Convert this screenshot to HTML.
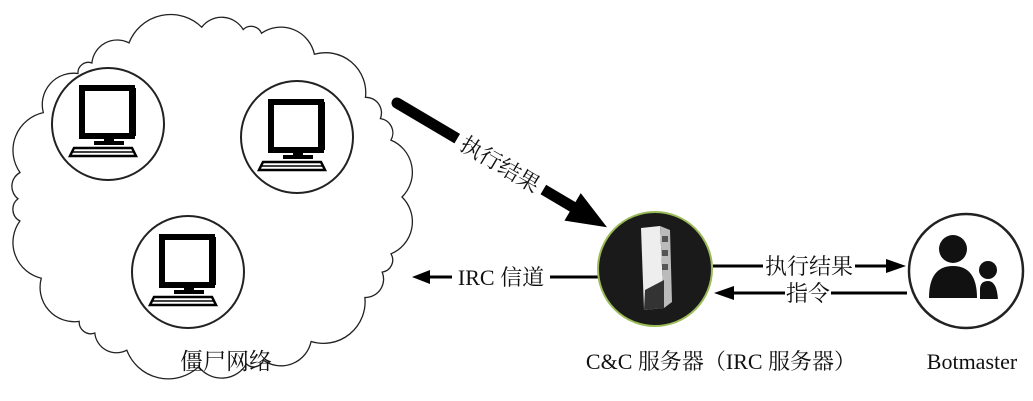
<!DOCTYPE html>
<html><head><meta charset="utf-8"><style>
html,body{margin:0;padding:0;background:#fff;width:1033px;height:401px;overflow:hidden}
svg{display:block}
text{font-family:"Liberation Serif","Noto Serif CJK SC",serif;fill:#111}
</style></head><body>
<svg id="s" width="1033" height="401" viewBox="0 0 1033 401">
<defs>
<g id="pc">
  <rect x="-28" y="-38" width="50" height="48" fill="#fff" stroke="#000" stroke-width="6"/>
  <rect x="22" y="-38" width="4" height="48" fill="#000"/>
  <rect x="-6" y="10" width="10" height="6" fill="#000"/>
  <rect x="-16" y="15" width="30" height="4" fill="#000"/>
  <polygon points="-36,22 22,22 26,30 -40,30" fill="#fff" stroke="#000" stroke-width="2.5"/>
  <line x1="-38" y1="26" x2="24" y2="26" stroke="#000" stroke-width="1.5"/>
</g>
</defs>
<path id="cloud" fill="#fff" stroke="#222" stroke-width="1.3"/>
<circle cx="108" cy="124" r="56" fill="#fff" stroke="#222" stroke-width="2"/>
<use href="#pc" x="110" y="126"/>
<circle cx="297" cy="137" r="56" fill="#fff" stroke="#222" stroke-width="2"/>
<use href="#pc" x="299" y="140"/>
<circle cx="188" cy="272" r="56" fill="#fff" stroke="#222" stroke-width="2"/>
<use href="#pc" x="190" y="275"/>
<text x="226" y="369" font-size="23" text-anchor="middle">僵尸网络</text>

<g transform="translate(397,103) rotate(30.6)">
  <line x1="0" y1="0" x2="210" y2="0" stroke="#000" stroke-width="11" stroke-linecap="round"/>
  <polygon points="204,-16 244,0 204,16" fill="#000"/>
  <rect x="70" y="-15" width="100" height="30" fill="#fff"/>
  <text x="120" y="8" font-size="22" text-anchor="middle">执行结果</text>
</g>

<line x1="425" y1="277" x2="598" y2="277" stroke="#000" stroke-width="3"/>
<polygon points="412,277 430,270 430,284" fill="#000"/>
<rect x="452" y="264" width="98" height="26" fill="#fff"/>
<text x="501" y="285" font-size="22" text-anchor="middle">IRC 信道</text>

<circle cx="655" cy="269" r="57" fill="#1a1a1a" stroke="#9bbb58" stroke-width="2"/>
<polygon points="641,228 660,226 664,308 644,310" fill="#eee"/>
<polygon points="660,226 670,230 672,302 664,308" fill="#bbb"/>
<rect x="662" y="236" width="6" height="6" fill="#555"/><rect x="662" y="250" width="6" height="6" fill="#555"/><rect x="662" y="264" width="6" height="6" fill="#555"/>
<polygon points="645,290 664,280 664,308 644,310" fill="#333"/>

<line x1="713" y1="266" x2="890" y2="266" stroke="#000" stroke-width="3"/>
<polygon points="906,266 886,259 886,273" fill="#000"/>
<rect x="763" y="254" width="92" height="24" fill="#fff"/>
<text x="809" y="274" font-size="22" text-anchor="middle">执行结果</text>
<line x1="730" y1="293" x2="907" y2="293" stroke="#000" stroke-width="3"/>
<polygon points="714,293 734,286 734,300" fill="#000"/>
<rect x="785" y="281" width="46" height="24" fill="#fff"/>
<text x="808" y="301" font-size="22" text-anchor="middle">指令</text>

<circle cx="966" cy="271" r="57" fill="#fff" stroke="#222" stroke-width="2.5"/>
<circle cx="953" cy="249" r="14" fill="#111"/>
<path d="M929,298 Q929,266 953,266 Q977,266 977,298 Z" fill="#111"/>
<circle cx="988" cy="270" r="9" fill="#111"/>
<path d="M979,300 L979,288 Q980,280 988,280 Q998,280 999,300 Z" fill="#111" stroke="#fff" stroke-width="2"/>

<text x="721" y="369" font-size="22" text-anchor="middle">C&amp;C 服务器（IRC 服务器）</text>
<text x="972" y="369" font-size="22" text-anchor="middle">Botmaster</text>
</svg>
<script>
(function(){
var cx=210,cy=197,rx=192,ry=170,N=26,pts=[];
for(var i=0;i<N;i++){var a=i/N*2*Math.PI+0.1*Math.sin(i*1.7);pts.push([cx+rx*Math.cos(a),cy+ry*Math.sin(a)]);}
var d="M"+pts[0][0].toFixed(1)+","+pts[0][1].toFixed(1);
for(var i=1;i<=N;i++){var p=pts[i%N],q=pts[i-1];var dist=Math.hypot(p[0]-q[0],p[1]-q[1]);var r=dist*0.6;
d+=" A"+r.toFixed(1)+","+r.toFixed(1)+" 0 0,1 "+p[0].toFixed(1)+","+p[1].toFixed(1);}
document.getElementById("cloud").setAttribute("d",d+"Z");
})();
</script>
</body></html>
